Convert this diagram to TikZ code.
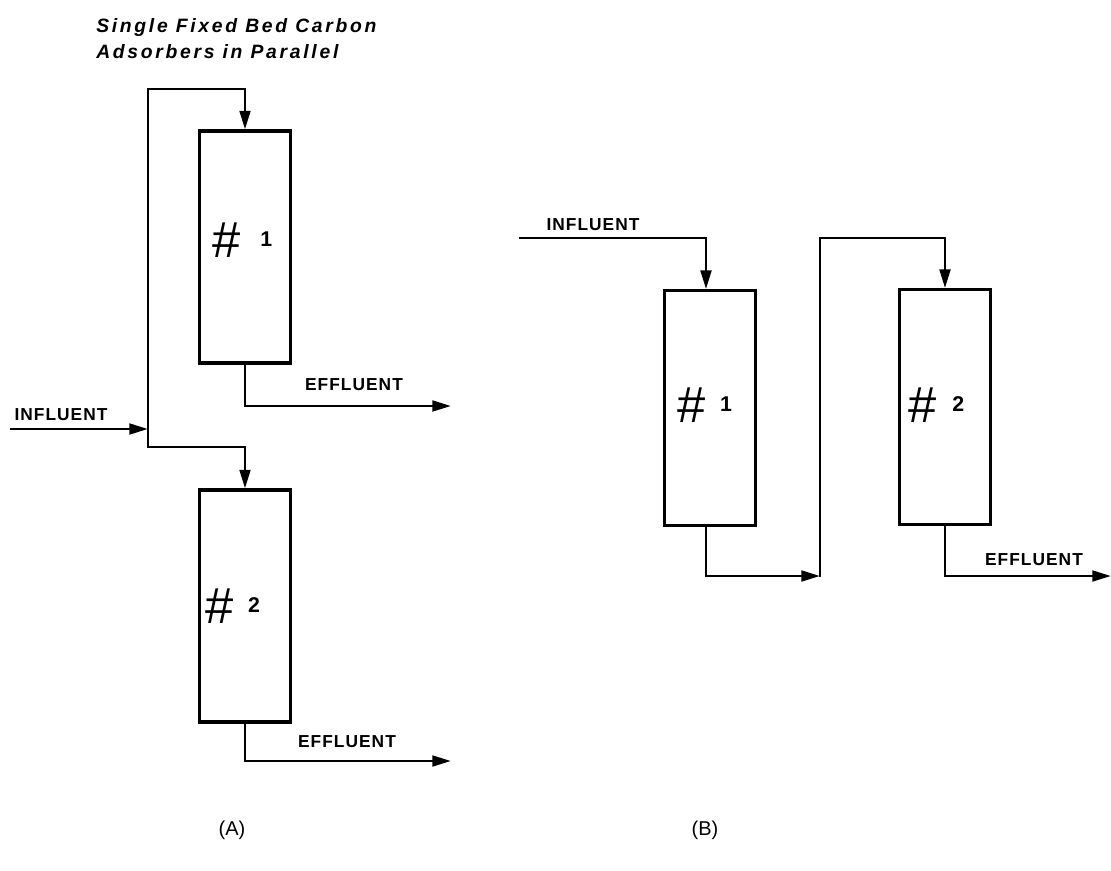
\documentclass[tikz,border=0pt]{standalone}
\usepackage{fontspec}
\setmainfont{Liberation Sans}
\newfontfamily\wideface[LetterSpace=6]{Liberation Sans}
\newfontfamily\titleface[LetterSpace=14]{Liberation Sans}
\usetikzlibrary{arrows.meta,positioning,calc}
\newcommand{\bedmark}[2]{{\fontsize{38pt}{40pt}\selectfont\#}\hspace{#2}\raisebox{8pt}{\fontsize{16pt}{18pt}\selectfont\bfseries #1}}
\tikzset{
  pipe/.style={line width=2.1pt},
  flow/.style={pipe,-{Stealth[length=14pt,width=8pt,inset=0pt]}},
  bedbox/.style={rectangle, draw, line width=2.3pt, inner sep=0pt},
  tag/.style={font=\wideface\fontsize{13pt}{15pt}\selectfont\bfseries, inner sep=0pt},
  titletag/.style={font=\titleface\fontsize{14.5pt}{20pt}\selectfont\bfseries\itshape, inner sep=0pt},
  bedlabel/.style={inner sep=0pt, anchor=west},
  caption/.style={font=\fontsize{15pt}{17pt}\selectfont, inner sep=0pt}
}
\begin{document}
\begin{tikzpicture}[x=0.75pt,y=-0.75pt]
\useasboundingbox (0,0) rectangle (1111,871);
% Title
\node[titletag, align=left, anchor=west] (title) at (96,38.5) {Single Fixed Bed Carbon\\Adsorbers in Parallel};
% Parallel beds (A)
\node[bedbox, minimum width=68.25pt, minimum height=174pt] (a1) at (245,247) {};
\node[bedbox, minimum width=68.25pt, minimum height=174pt] (a2) at (245,606) {};
\node[bedlabel] (a1lab) at (212,240) {\bedmark{1}{15pt}};
\node[bedlabel] (a2lab) at (205,606) {\bedmark{2}{11pt}};
% Free ends
\coordinate (infA) at (10,429);
\coordinate (split) at (148,429);
\coordinate (topA) at (148,89);
\coordinate (lowA) at (148,447);
\coordinate (outA1) at (451,406);
\coordinate (outA2) at (451,761);
% Pipes (A)
\draw[flow] (infA)--(split);
\draw[pipe,line cap=rect] (lowA)--(topA);
\draw[flow] (topA)-|(a1.north);
\draw[flow] (lowA)-|(a2.north);
\draw[flow] (a1.south)|-(outA1);
\draw[flow] (a2.south)|-(outA2);
% Labels (A)
\node[tag] (infAlab) at (61,415) {INFLUENT};
\node[tag] (effA1lab) at (354,385) {EFFLUENT};
\node[tag] (effA2lab) at (347,742) {EFFLUENT};
\node[caption] (capA) at (232,830) {(A)};
% Series beds (B)
\node[bedbox, minimum width=68.25pt, minimum height=176pt] (b1) at (710,408) {};
\node[bedbox, minimum width=68.25pt, minimum height=176pt] (b2) at (945,407) {};
\node[bedlabel] (b1lab) at (677,405) {\bedmark{1}{11pt}};
\node[bedlabel] (b2lab) at (908,405) {\bedmark{2}{12pt}};
% Free ends
\coordinate (infB) at (520,238);
\coordinate (bendB) at (706,238);
\coordinate (linkB) at (820,576);
\coordinate (topB) at (820,238);
\coordinate (outB) at (1111,576);
% Pipes (B)
\draw[pipe,line cap=rect] (infB)--(bendB);
\draw[flow] (bendB)--(b1.north-|bendB);
\draw[flow] (b1.south-|bendB)|-(linkB);
\draw[pipe,line cap=rect] (linkB)--(topB);
\draw[flow] (topB)-|(b2.north);
\draw[flow] (b2.south)|-(outB);
% Labels (B)
\node[tag] (infBlab) at (593,225) {INFLUENT};
\node[tag] (effBlab) at (1034,560) {EFFLUENT};
\node[caption] (capB) at (705,830) {(B)};
\end{tikzpicture}
\end{document}
